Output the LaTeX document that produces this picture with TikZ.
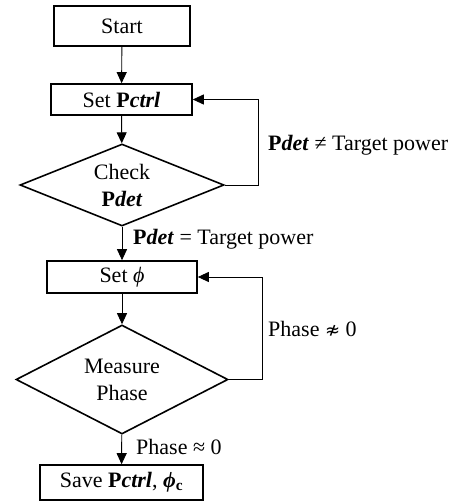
\documentclass[tikz,border=0pt]{standalone}
\usepackage{fontspec}
\setmainfont{Liberation Serif}
\newfontfamily\symfont{DejaVu Sans}
\usetikzlibrary{arrows.meta,shapes.geometric}

\tikzset{
  stepbox/.style={draw,line width=1.6pt,inner sep=0pt,align=center},
  decide/.style={draw,diamond,line width=1.6pt,inner sep=0pt,shape aspect=2.5,align=center},
  flow/.style={line width=0.9pt,-{Triangle[length=11pt,width=10pt]}},
  cond/.style={anchor=west,inner sep=0pt}
}

\begin{document}
\begin{tikzpicture}[x=1pt,y=-1pt,font=\fontsize{22}{27}\selectfont]
\useasboundingbox (0,0) rectangle (462,502);

\node[stepbox,minimum width=136pt,minimum height=40pt] (start) at (122,26) {Start};
\node[stepbox,minimum width=141pt,minimum height=31pt] (setp) at (121.5,99.5) {Set \textbf{P\textit{ctrl}}};
\node[decide,minimum width=204pt,minimum height=82pt] (check) at (122,185) {Check\\\textbf{P\textit{det}}};
\node[stepbox,minimum width=150pt,minimum height=32pt] (setphi) at (122,277) {Set \textit{ϕ}};
\node[decide,minimum width=212pt,minimum height=109pt] (measure) at (122,379.5) {Measure\\Phase};
\node[stepbox,minimum width=163pt,minimum height=35pt] (save) at (121.5,482.5) {Save \textbf{P\textit{ctrl}}, \textbf{\textit{ϕ}\textsubscript{c}}};

\coordinate (loopa) at (258,185);
\coordinate (loopb) at (262,379.5);

\draw[flow] (start) -- (setp);
\draw[flow] (setp) -- (check);
\draw[flow] (check) -- (setphi);
\draw[flow] (setphi) -- (measure);
\draw[flow] (measure) -- (save);
\draw[flow] (check.east) -- (loopa) |- (setp.east);
\draw[flow] (measure.east) -- (loopb) |- (setphi.east);

\node[cond] (ne) at (268,145) {\textbf{P\textit{det}} ≠ Target power};
\node[cond] (eq) at (133,239) {\textbf{P\textit{det}} = Target power};
\node[cond] (nap) at (268,329) {Phase {\symfont\fontsize{18}{22}\selectfont ≉} 0};
\node[cond] (ap) at (136,447) {Phase ≈ 0};

\end{tikzpicture}
\end{document}
